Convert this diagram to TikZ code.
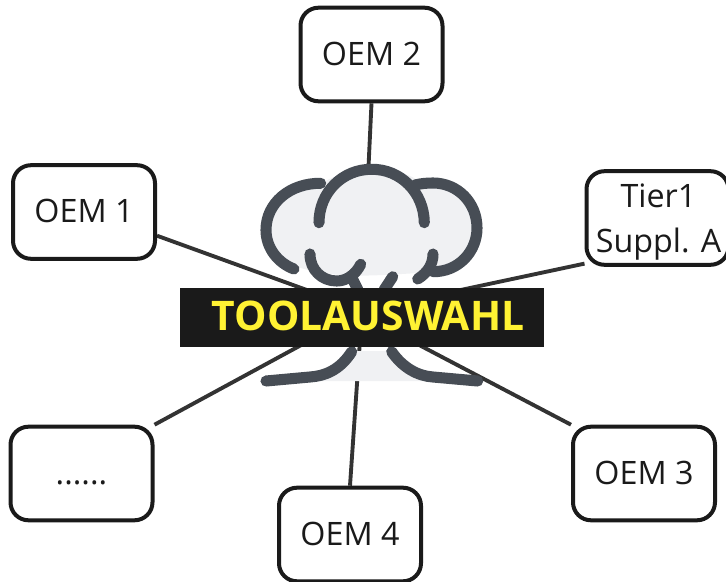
\documentclass[tikz,border=0pt]{standalone}
\usepackage{fontspec}
\setmainfont{Open Sans}
\usetikzlibrary{backgrounds}
\definecolor{inkline}{HTML}{1A1A1A}
\definecolor{linkline}{HTML}{333333}
\definecolor{iconline}{HTML}{474D55}
\definecolor{iconfill}{HTML}{F0F1F3}
\definecolor{barfill}{HTML}{1A1A1A}
\definecolor{bartext}{HTML}{FFF233}
\newcommand{\shiftup}[2]{\raisebox{#1}{#2}}
\tikzset{
  oembox/.style={draw=inkline,fill=white,line width=3pt,rounded corners=13.5pt,minimum width=106.5pt,minimum height=70.2pt,inner sep=0pt,align=center,font=\fontsize{24.2}{33.75}\selectfont,text=inkline},
  toolbar/.style={fill=barfill,minimum width=273pt,minimum height=44.25pt,inner sep=0pt,font=\fontsize{30.6}{36}\selectfont\bfseries,text=bartext},
  linkstroke/.style={draw=linkline,line width=2.9pt},
  iconstroke/.style={draw=iconline,line width=8.3pt,line cap=round,line join=round},
  iconblob/.style={fill=iconfill,draw=none}
}
\begin{document}
\begin{tikzpicture}[x=0.75pt,y=-0.75pt]
\useasboundingbox (0,0) rectangle (726,582);
\clip (0,0) rectangle (726,582);
% boxes
\node[oembox] (oem2) at (371.5,54.5) {\shiftup{1.5pt}{OEM 2}};
\node[oembox] (oem1) at (84,212) {\shiftup{1.5pt}{OEM 1}};
\node[oembox] (tier) at (657.5,218) {\hspace*{1.5pt}\rule{0pt}{23.5pt}Tier1\\\hspace*{1.5pt}Suppl. A};
\node[oembox] (more) at (81.5,473.5) {\shiftup{1.5pt}{\vphantom{OEM}......}};
\node[oembox] (oem3) at (644,473.5) {\shiftup{1.5pt}{OEM 3}};
\node[oembox] (oem4) at (350,534.5) {\shiftup{1.5pt}{OEM 4}};
% hubs
\coordinate (hubA) at (362,310);
\coordinate (hubB) at (362,311);
\coordinate (hubC) at (362,312);
\coordinate (hubD) at (362,315);
\coordinate (hubE) at (360,340);
\coordinate (hubF) at (366,220);
% connectors
\begin{scope}[on background layer]
\draw[linkstroke] (oem1.-18) -- (hubA);
\draw[linkstroke] (tier.212) -- (hubB);
\draw[linkstroke] (more.north east) -- (hubC);
\draw[linkstroke] (oem3.north west) -- (hubD);
\draw[linkstroke] (oem4.north) -- (hubE);
\draw[linkstroke] (oem2.south) -- (hubF);
\end{scope}
% cloud fill
\fill[iconblob] (320,184) .. controls (290,183) and (266,203) .. (266,230)
  .. controls (266,250) and (285,268) .. (320,272)
  .. controls (345,279) and (400,274) .. (433,272)
  .. controls (460,268) and (477,250) .. (477,228)
  .. controls (477,203) and (455,183) .. (425,186)
  .. controls (410,172) and (390,169) .. (372,169)
  .. controls (355,169) and (335,175) .. cycle;
\fill[iconblob] (352,351) -- (391,351) .. controls (400,368) and (415,378) .. (428,381)
  -- (317,381) .. controls (335,375) and (345,365) .. cycle;
% cloud strokes
\draw[iconstroke] (320.7,183.3) .. controls (290,183) and (266,203) .. (266,230) .. controls (266,248) and (278,263) .. (294,269);
\draw[iconstroke] (319,222.7) .. controls (319,192) and (343,169) .. (371.7,169.3) .. controls (400,169) and (424,192) .. (424.3,222.7);
\draw[iconstroke] (415,185) .. controls (421,183.5) and (427,183) .. (433,183) .. controls (458,183) and (477,203) .. (477,228) .. controls (477,252) and (458,272) .. (433,271.7);
\draw[iconstroke] (433,254) .. controls (433,265) and (427,273) .. (417.7,279);
\draw[iconstroke] (310,254) .. controls (310,270) and (322,281) .. (336.7,281) .. controls (347,281) and (356,274) .. (360.7,264.3);
\draw[iconstroke] (351,276) -- (358,290);
\draw[iconstroke] (392.7,276.7) -- (384,290);
\draw[iconstroke] (351.7,351.7) .. controls (340,370) and (325,376) .. (310,377) -- (266,381);
\draw[iconstroke] (391.7,351.7) .. controls (403,368) and (418,376) .. (433,377) -- (477.7,381);
% title bar
\node[toolbar] (tool) at (362,317.5) {\hspace*{9pt}\shiftup{2.5pt}{TOOLAUSWAHL}};
\end{tikzpicture}
\end{document}
